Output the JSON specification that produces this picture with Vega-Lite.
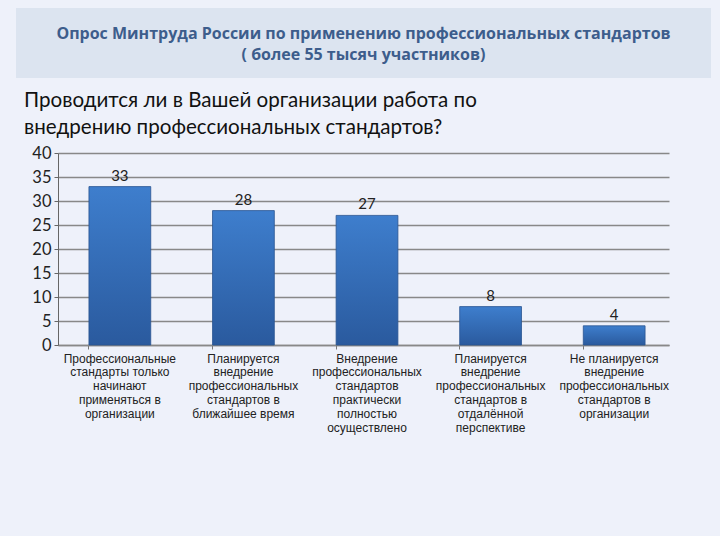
{
  "$schema": "https://vega.github.io/schema/vega-lite/v6.json",
  "background": "#EEF1FA",
  "padding": {"left": 16, "top": 8, "right": 16, "bottom": 103},
  "spacing": 75,
  "bounds": "flush",
  "center": true,
  "config": {"view": {"stroke": null}, "font": "Lato"},
  "vconcat": [
    {
      "width": 695,
      "height": 70,
      "view": {"fill": "#DCE4F0", "stroke": null},
      "data": {"values": [{"t": "Опрос  Минтруда России по применению профессиональных стандартов\n( более 55 тысяч участников)"}]},
      "mark": {"type": "text", "lineBreak": "\n", "font": "Open Sans", "fontSize": 16, "fontWeight": "bold", "color": "#3D5D8C", "lineHeight": 21, "baseline": "middle", "align": "center", "dy": -9},
      "encoding": {"text": {"field": "t"}}
    },
    {
      "width": 611,
      "height": 192,
      "title": {
        "text": ["Проводится ли в Вашей организации работа по", "внедрению профессиональных стандартов?"],
        "anchor": "start",
        "frame": "bounds",
        "dx": 8,
        "font": "Lato",
        "fontSize": 20.6,
        "fontWeight": "normal",
        "color": "#111111",
        "lineHeight": 27,
        "offset": 6
      },
      "data": {"values": [
        {"category": "Профессиональные|стандарты только|начинают|применяться в|организации", "value": 33},
        {"category": "Планируется|внедрение|профессиональных|стандартов в|ближайшее время", "value": 28},
        {"category": "Внедрение|профессиональных|стандартов|практически|полностью|осуществлено", "value": 27},
        {"category": "Планируется|внедрение|профессиональных|стандартов в|отдалённой|перспективе", "value": 8},
        {"category": "Не планируется|внедрение|профессиональных|стандартов в|организации", "value": 4}
      ]},
      "encoding": {
        "x": {
          "field": "category", "type": "nominal", "sort": null,
          "scale": {"paddingInner": 0.5, "paddingOuter": 0.222, "align": 0.564},
          "axis": {
            "title": null, "labelAngle": 0, "labelExpr": "split(datum.value, '|')",
            "labelFont": "Liberation Sans", "labelFontSize": 12, "labelColor": "#222222",
            "labelLineHeight": 13.8, "labelBaseline": "top", "labelPadding": 4,
            "bandPosition": 0, "tickColor": "#777777", "tickSize": 4,
            "domainColor": "#888888", "domainWidth": 1.5, "labelLimit": 200
          }
        },
        "y": {
          "field": "value", "type": "quantitative",
          "scale": {"domain": [0, 40]},
          "axis": {
            "title": null, "values": [0, 5, 10, 15, 20, 25, 30, 35, 40],
            "labelFont": "Lato", "labelFontSize": 16.5, "labelColor": "#222222",
            "gridColor": "#888888", "gridWidth": 1.5, "gridOpacity": 1,
            "domainColor": "#666666", "tickColor": "#666666", "tickSize": 4,
            "labelPadding": 3, "minExtent": 42
          }
        }
      },
      "layer": [
        {
          "mark": {
            "type": "bar",
            "stroke": "#2A5490", "strokeWidth": 0.8,
            "color": {"gradient": "linear", "x1": 0, "y1": 0, "x2": 0, "y2": 1,
              "stops": [{"offset": 0, "color": "#3E7ECD"}, {"offset": 1, "color": "#2A5A9E"}]}
          }
        },
        {
          "mark": {"type": "text", "baseline": "bottom", "dy": -3, "font": "Lato", "fontSize": 15, "color": "#222222"},
          "encoding": {"text": {"field": "value", "type": "quantitative"}}
        }
      ]
    }
  ]
}
